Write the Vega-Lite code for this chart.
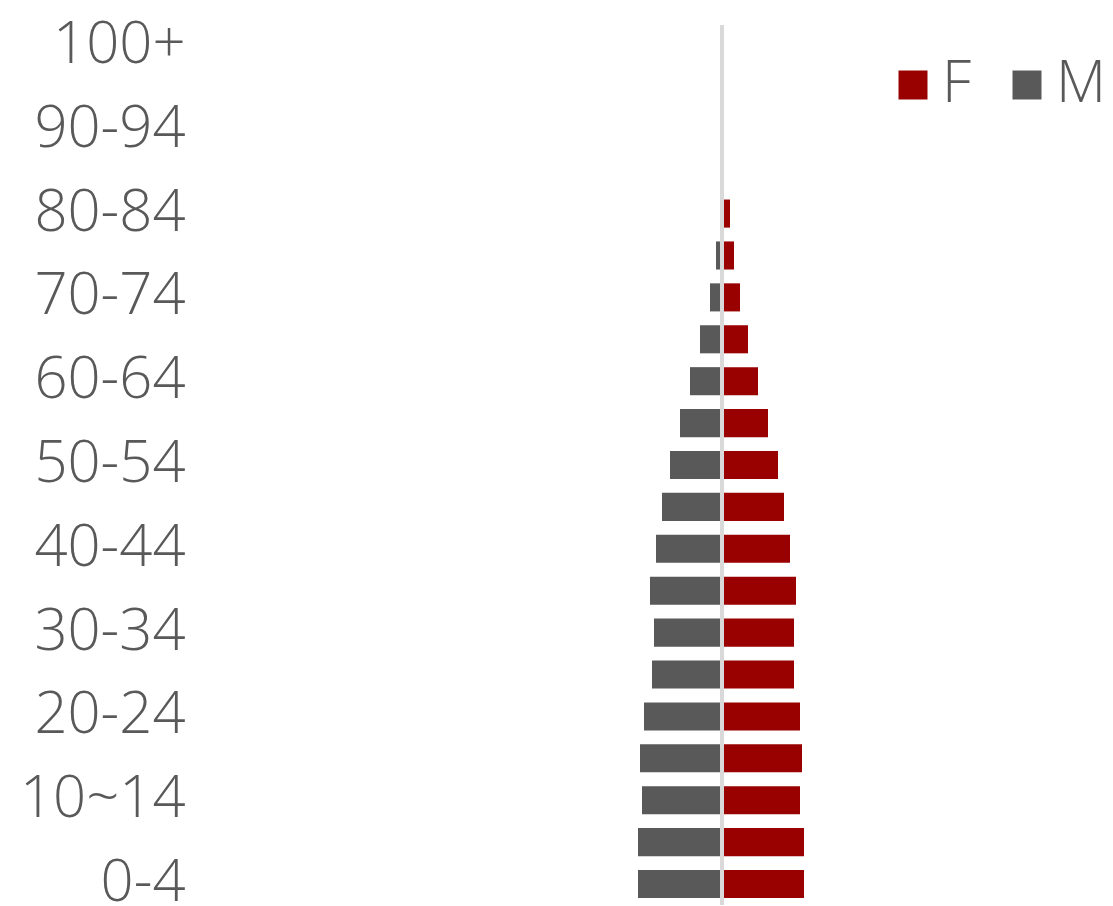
{
  "$schema": "https://vega.github.io/schema/vega-lite/v6.json",
  "width": 913,
  "height": 880,
  "autosize": {"type": "none"},
  "padding": {"left": 200, "top": 25, "right": 0, "bottom": 0},
  "background": "white",
  "config": {"view": {"stroke": null}},
  "data": {
    "values": [
      {"age": "0-4", "sex": "M", "value": -4.2}, {"age": "0-4", "sex": "F", "value": 4.1},
      {"age": "5-9", "sex": "M", "value": -4.2}, {"age": "5-9", "sex": "F", "value": 4.1},
      {"age": "10~14", "sex": "M", "value": -4.0}, {"age": "10~14", "sex": "F", "value": 3.9},
      {"age": "15-19", "sex": "M", "value": -4.1}, {"age": "15-19", "sex": "F", "value": 4.0},
      {"age": "20-24", "sex": "M", "value": -3.9}, {"age": "20-24", "sex": "F", "value": 3.9},
      {"age": "25-29", "sex": "M", "value": -3.5}, {"age": "25-29", "sex": "F", "value": 3.6},
      {"age": "30-34", "sex": "M", "value": -3.4}, {"age": "30-34", "sex": "F", "value": 3.6},
      {"age": "35-39", "sex": "M", "value": -3.6}, {"age": "35-39", "sex": "F", "value": 3.7},
      {"age": "40-44", "sex": "M", "value": -3.3}, {"age": "40-44", "sex": "F", "value": 3.4},
      {"age": "45-49", "sex": "M", "value": -3.0}, {"age": "45-49", "sex": "F", "value": 3.1},
      {"age": "50-54", "sex": "M", "value": -2.6}, {"age": "50-54", "sex": "F", "value": 2.8},
      {"age": "55-59", "sex": "M", "value": -2.1}, {"age": "55-59", "sex": "F", "value": 2.3},
      {"age": "60-64", "sex": "M", "value": -1.6}, {"age": "60-64", "sex": "F", "value": 1.8},
      {"age": "65-69", "sex": "M", "value": -1.1}, {"age": "65-69", "sex": "F", "value": 1.3},
      {"age": "70-74", "sex": "M", "value": -0.6}, {"age": "70-74", "sex": "F", "value": 0.9},
      {"age": "75-79", "sex": "M", "value": -0.3}, {"age": "75-79", "sex": "F", "value": 0.6},
      {"age": "80-84", "sex": "M", "value": -0.05}, {"age": "80-84", "sex": "F", "value": 0.4},
      {"age": "85-89", "sex": "M", "value": 0}, {"age": "85-89", "sex": "F", "value": 0},
      {"age": "90-94", "sex": "M", "value": 0}, {"age": "90-94", "sex": "F", "value": 0},
      {"age": "95-99", "sex": "M", "value": 0}, {"age": "95-99", "sex": "F", "value": 0},
      {"age": "100+", "sex": "M", "value": 0}, {"age": "100+", "sex": "F", "value": 0}
    ]
  },
  "layer": [
    {
      "mark": {"type": "bar"},
      "encoding": {
        "y": {
          "field": "age",
          "type": "nominal",
          "sort": ["100+", "95-99", "90-94", "85-89", "80-84", "75-79", "70-74", "65-69", "60-64", "55-59", "50-54", "45-49", "40-44", "35-39", "30-34", "25-29", "20-24", "15-19", "10~14", "5-9", "0-4"],
          "scale": {"paddingInner": 0.33, "paddingOuter": 0.165},
          "axis": {
            "title": null,
            "domain": false,
            "ticks": false,
            "values": ["100+", "90-94", "80-84", "70-74", "60-64", "50-54", "40-44", "30-34", "20-24", "10~14", "0-4"],
            "labelFont": "Open Sans",
            "labelFontWeight": 300,
            "labelFontSize": 58,
            "labelColor": "#595959",
            "labelPadding": 15
          }
        },
        "x": {
          "field": "value",
          "type": "quantitative",
          "scale": {"domain": [-26.1, 19.55], "nice": false, "zero": false},
          "axis": null
        },
        "color": {
          "field": "sex",
          "type": "nominal",
          "scale": {"domain": ["F", "M"], "range": ["#990000", "#595959"]},
          "legend": {
            "title": null,
            "orient": "none",
            "direction": "horizontal",
            "legendX": 684,
            "legendY": 31,
            "padding": 0,
            "gridAlign": "none",
            "symbolType": "square",
            "symbolSize": 841,
            "symbolStrokeWidth": 0,
            "symbolOpacity": 1,
            "labelFont": "Open Sans",
            "labelFontWeight": 300,
            "labelFontSize": 58,
            "labelColor": "#595959",
            "labelOffset": 0,
            "columnPadding": 26
          }
        }
      }
    },
    {
      "mark": {"type": "rule", "color": "#d9d9d9", "strokeWidth": 4},
      "encoding": {"x": {"datum": 0, "type": "quantitative"}}
    }
  ]
}
